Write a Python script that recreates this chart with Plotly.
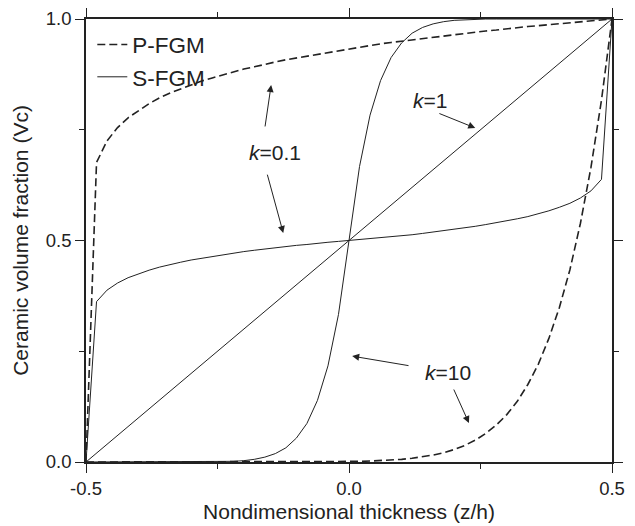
import plotly.graph_objects as go

# z/h grid
z = [-0.5, -0.48, -0.46, -0.44, -0.42, -0.4, -0.38, -0.36, -0.34, -0.32, -0.3,
     -0.28, -0.26, -0.24, -0.22, -0.2, -0.18, -0.16, -0.14, -0.12, -0.1,
     -0.08, -0.06, -0.04, -0.02, 0.0, 0.02, 0.04, 0.06, 0.08, 0.1,
     0.12, 0.14, 0.16, 0.18, 0.2, 0.22, 0.24, 0.26, 0.28, 0.3,
     0.32, 0.34, 0.36, 0.38, 0.4, 0.42, 0.44, 0.46, 0.48, 0.5]

p_fgm_k01 = [0, 0.676, 0.725, 0.755, 0.777, 0.794, 0.809, 0.822, 0.833, 0.842, 0.851,
             0.860, 0.867, 0.874, 0.880, 0.887, 0.892, 0.898, 0.903, 0.908, 0.912,
             0.917, 0.921, 0.925, 0.929, 0.933, 0.937, 0.940, 0.944, 0.947, 0.950,
             0.953, 0.956, 0.959, 0.962, 0.965, 0.968, 0.970, 0.973, 0.975, 0.978,
             0.980, 0.983, 0.985, 0.987, 0.990, 0.992, 0.994, 0.996, 0.998, 1.0]

p_fgm_k10 = [0, 0, 0, 0, 0, 0, 0, 0, 0, 0, 0,
             0, 0, 0, 0, 0, 0, 0, 0, 0, 0,
             0.0002, 0.0003, 0.0004, 0.0006, 0.001, 0.0014, 0.0021, 0.003, 0.0043, 0.006,
             0.0084, 0.0115, 0.0157, 0.0211, 0.0282, 0.0374, 0.0492, 0.0643, 0.0834, 0.107,
             0.137, 0.175, 0.221, 0.279, 0.349, 0.434, 0.539, 0.665, 0.817, 1.0]

s_fgm_k01 = [0, 0.362, 0.388, 0.404, 0.416, 0.425, 0.433, 0.440, 0.446, 0.451, 0.456,
             0.460, 0.464, 0.468, 0.472, 0.475, 0.478, 0.481, 0.484, 0.487, 0.489,
             0.491, 0.494, 0.496, 0.498, 0.5, 0.502, 0.504, 0.506, 0.509, 0.511,
             0.513, 0.516, 0.519, 0.522, 0.525, 0.528, 0.532, 0.536, 0.540, 0.544,
             0.549, 0.554, 0.560, 0.567, 0.575, 0.584, 0.596, 0.612, 0.638, 1.0]

s_fgm_k10 = [0, 0, 0, 0, 0, 0, 0, 0, 0, 0, 0,
             0, 0, 0.0007, 0.0015, 0.003, 0.006, 0.011, 0.019, 0.032, 0.054,
             0.087, 0.139, 0.217, 0.333, 0.5, 0.667, 0.783, 0.861, 0.913, 0.946,
             0.968, 0.981, 0.989, 0.994, 0.997, 0.9985, 0.9993, 1.0, 1.0, 1.0,
             1.0, 1.0, 1.0, 1.0, 1.0, 1.0, 1.0, 1.0, 1.0, 1.0]

z_k1 = [-0.5, 0.5]
fgm_k1 = [0.0, 1.0]

# annotation labels: (text, x, y)
labels = [("<i>k</i>=0.1", -0.141, 0.698),
          ("<i>k</i>=1", 0.154, 0.817),
          ("<i>k</i>=10", 0.188, 0.201)]
# arrows: head (x, y), tail (x, y)
arrows = [((-0.148, 0.851), (-0.160, 0.754)),
          ((-0.125, 0.517), (-0.156, 0.652)),
          ((0.240, 0.754), (0.169, 0.788)),
          ((0.006, 0.239), (0.116, 0.217)),
          ((0.228, 0.088), (0.198, 0.167))]

FONT = "Liberation Sans, Arial, sans-serif"
INK = "#222222"
dash_style = dict(color=INK, width=1.6, dash="8px,4px")
solid_style = dict(color=INK, width=1.0)

fig = go.Figure()
fig.add_trace(go.Scatter(x=z, y=p_fgm_k01, mode="lines", line=dash_style,
                         name="P-FGM", legendgroup="P", showlegend=True))
fig.add_trace(go.Scatter(x=z, y=p_fgm_k10, mode="lines", line=dash_style,
                         name="P-FGM", legendgroup="P", showlegend=False))
fig.add_trace(go.Scatter(x=z, y=s_fgm_k01, mode="lines", line=solid_style,
                         name="S-FGM", legendgroup="S", showlegend=True))
fig.add_trace(go.Scatter(x=z, y=s_fgm_k10, mode="lines", line=solid_style,
                         name="S-FGM", legendgroup="S", showlegend=False))
fig.add_trace(go.Scatter(x=z_k1, y=fgm_k1, mode="lines", line=solid_style,
                         name="S-FGM", legendgroup="S", showlegend=False))

for text, x, y in labels:
    fig.add_annotation(x=x, y=y, text=text, showarrow=False,
                       font=dict(family=FONT, size=21, color=INK))
for (hx, hy), (tx, ty) in arrows:
    fig.add_annotation(x=hx, y=hy, ax=tx, ay=ty, xref="x", yref="y",
                       axref="x", ayref="y", text="", showarrow=True,
                       arrowhead=2, arrowsize=1.4, arrowwidth=1.0, arrowcolor=INK)

axis_common = dict(showgrid=False, zeroline=False, showline=True, linecolor=INK,
                   linewidth=1.5, mirror="ticks", ticks="outside", ticklen=9,
                   tickwidth=1.2, tickcolor=INK, automargin=False,
                   tickfont=dict(family=FONT, size=18.5, color=INK),
                   minor=dict(ticks="outside", ticklen=5, tickwidth=1.2,
                              tickcolor=INK, dtick=0.25, showgrid=False))

fig.update_xaxes(range=[-0.5, 0.5], tickvals=[-0.5, 0.0, 0.5],
                 ticktext=["-0.5", "0.0", "0.5"],
                 title=dict(text="Nondimensional thickness (z/h)", standoff=6,
                            font=dict(family=FONT, size=21, color=INK)),
                 **axis_common)
fig.update_yaxes(range=[0, 1], tickvals=[0.0, 0.5, 1.0],
                 ticktext=["0.0", "0.5", "1.0"],
                 title=dict(text="Ceramic volume fraction (Vc)", standoff=11,
                            font=dict(family=FONT, size=21, color=INK)),
                 **axis_common)

# the page body adds an 8px offset, so the figure is 8px smaller and margins shifted
fig.update_layout(width=627, height=518,
                  margin=dict(l=78, r=23, t=11, b=64),
                  plot_bgcolor="white", paper_bgcolor="white",
                  font=dict(family=FONT, color=INK),
                  legend=dict(x=0.012, y=0.99, xanchor="left", yanchor="top",
                              bgcolor="rgba(0,0,0,0)", borderwidth=0,
                              font=dict(family=FONT, size=22.5, color=INK),
                              itemwidth=30, tracegroupgap=0))

fig.write_html("out.html")
